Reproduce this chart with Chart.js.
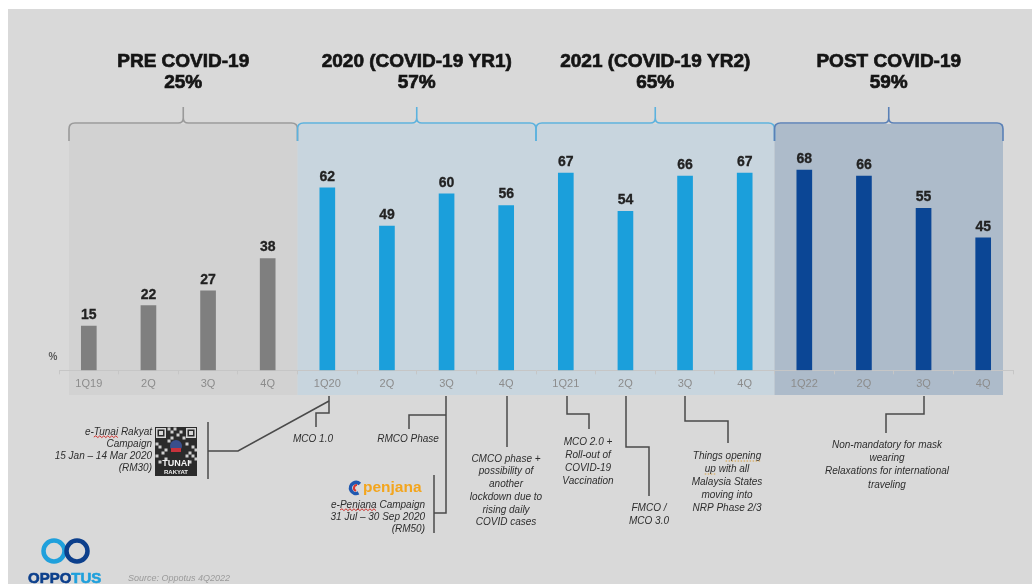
<!DOCTYPE html>
<html>
<head>
<meta charset="utf-8">
<script src="https://cdn.jsdelivr.net/npm/chart.js@4.4.1/dist/chart.umd.min.js"></script>
<style>
  html, body { margin: 0; padding: 0; background: #ffffff; }
  #wrap { width: 1032px; height: 584px; }
</style>
</head>
<body>
<div id="wrap"><canvas id="chart" width="1032" height="584"></canvas></div>
<script>
// Quarterly share (%) and the four periods they are grouped into
const quarters = ['1Q19', '2Q', '3Q', '4Q', '1Q20', '2Q', '3Q', '4Q', '1Q21', '2Q', '3Q', '4Q', '1Q22', '2Q', '3Q', '4Q'];
const shares = [15, 22, 27, 38, 62, 49, 60, 56, 67, 54, 66, 67, 68, 66, 55, 45];
const periodTitles = ['PRE COVID-19', '2020 (COVID-19 YR1)', '2021 (COVID-19 YR2)', 'POST COVID-19'];
const periodAverages = [25, 57, 65, 59];
const periodQuarters = [4, 4, 4, 4];

const FONT = '"Liberation Sans", Arial, Helvetica, sans-serif';
const barColors = ['#7f7f7f', '#1b9fdb', '#1b9fdb', '#0b4695'];
const bandColors = ['#d2d2d2', '#c8d5de', '#c8d5de', '#adbbca'];
const braceColors = ['#9a9a9a', '#5cb2de', '#5cb2de', '#5a80b6'];

// period index for each quarter
const periodOf = [];
periodQuarters.forEach((n, p) => { for (let k = 0; k < n; k++) periodOf.push(p); });

// Event call-outs under the axis
const events = [
  { lines: ['MCO 1.0'], x: 313, y: 439, align: 'center' },
  { lines: ['RMCO Phase'], x: 408, y: 439, align: 'center' },
  { lines: ['CMCO phase +', 'possibility of', 'another', 'lockdown due to', 'rising daily', 'COVID cases'], x: 506, y: 459, step: 12.7, align: 'center' },
  { lines: ['MCO 2.0 +', 'Roll-out of', 'COVID-19', 'Vaccination'], x: 588, y: 442, step: 13, align: 'center' },
  { lines: ['FMCO /', 'MCO 3.0'], x: 649, y: 508, step: 13, align: 'center' },
  { lines: ['Things opening', 'up with all', 'Malaysia States', 'moving into', 'NRP Phase 2/3'], x: 727, y: 456, step: 13, align: 'center' },
  { lines: ['Non-mandatory for mask', 'wearing', 'Relaxations for international', 'traveling'], x: 887, y: 445, step: 13.3, align: 'center' },
  { lines: ['e-Tunai Rakyat', 'Campaign', '15 Jan \u2013 14 Mar 2020', '(RM30)'], x: 152, y: 432, step: 12, align: 'right' },
  { lines: ['e-Penjana Campaign', '31 Jul \u2013 30 Sep 2020', '(RM50)'], x: 425, y: 505, step: 12, align: 'right' }
];

// Connector polylines (pixel points) tying call-outs to the axis
const connectors = [
  [[329, 396], [329, 413], [316, 413], [316, 427]],
  [[208, 422], [208, 479]],
  [[208, 451], [238, 451], [329, 401]],
  [[446, 396], [446, 513], [434, 513]],
  [[446, 415], [409, 415], [409, 429]],
  [[434, 475], [434, 533]],
  [[507, 396], [507, 447]],
  [[567, 396], [567, 414], [589, 414], [589, 429]],
  [[626, 396], [626, 447], [649, 447], [649, 496]],
  [[685, 396], [685, 421], [728, 421], [728, 443]],
  [[924, 396], [924, 414], [886, 414], [886, 433]]
];

function periodEdges(xs) {
  const half = (xs.getPixelForValue(1) - xs.getPixelForValue(0)) / 2;
  const edges = [];
  let start = 0;
  periodQuarters.forEach((n, p) => {
    let x0 = xs.getPixelForValue(start) - half;
    let x1 = xs.getPixelForValue(start + n - 1) + half;
    if (p === 0) x0 += 10;
    if (p === periodQuarters.length - 1) x1 -= 10;
    edges.push([x0, x1]);
    start += n;
  });
  return edges;
}

function brace(ctx, x0, x1, y, color) {
  const xc = (x0 + x1) / 2, r = 6;
  ctx.save();
  ctx.strokeStyle = color;
  ctx.lineWidth = 1.6;
  ctx.beginPath();
  ctx.moveTo(x0, y + 18);
  ctx.lineTo(x0, y + r);
  ctx.quadraticCurveTo(x0, y, x0 + r, y);
  ctx.lineTo(xc - 5, y);
  ctx.quadraticCurveTo(xc, y, xc, y - 5);
  ctx.lineTo(xc, y - 16);
  ctx.moveTo(xc, y - 5);
  ctx.quadraticCurveTo(xc, y, xc + 5, y);
  ctx.lineTo(x1 - r, y);
  ctx.quadraticCurveTo(x1, y, x1, y + r);
  ctx.lineTo(x1, y + 18);
  ctx.stroke();
  ctx.restore();
}

function squiggle(ctx, x0, x1, y, color, dotted) {
  ctx.save();
  ctx.strokeStyle = color;
  ctx.lineWidth = 1;
  ctx.beginPath();
  if (dotted) {
    ctx.setLineDash([1.5, 1.5]);
    ctx.moveTo(x0, y); ctx.lineTo(x1, y);
  } else {
    ctx.moveTo(x0, y);
    let up = true;
    for (let x = x0 + 2; x <= x1; x += 2) { ctx.lineTo(x, up ? y - 1.2 : y + 0.6); up = !up; }
  }
  ctx.stroke();
  ctx.restore();
}

function drawQR(ctx, x, y) {
  ctx.save();
  ctx.fillStyle = '#2b2b2b';
  ctx.fillRect(x, y, 42, 49);
  ctx.fillStyle = '#cfcfcf';
  const m = 3;
  const blocks = [
    [4, 0], [5, 1], [6, 0], [7, 2], [5, 3], [8, 1], [9, 3], [4, 4], [6, 5], [0, 5], [1, 6], [3, 7],
    [2, 8], [0, 9], [10, 5], [12, 6], [11, 8], [13, 7], [12, 9], [10, 9], [3, 10], [1, 11], [11, 11], [13, 10]
  ];
  blocks.forEach(([c, r]) => ctx.fillRect(x + 0.5 + c * m, y + 0.5 + r * m, m, m));
  // finder squares
  [[1, 1], [31, 1]].forEach(([fx, fy]) => {
    ctx.fillStyle = '#d6d6d6'; ctx.fillRect(x + fx, y + fy, 10, 10);
    ctx.fillStyle = '#2b2b2b'; ctx.fillRect(x + fx + 1.5, y + fy + 1.5, 7, 7);
    ctx.fillStyle = '#d6d6d6'; ctx.fillRect(x + fx + 3, y + fy + 3, 4, 4);
  });
  // emblem
  ctx.fillStyle = '#3a4f8c'; ctx.beginPath(); ctx.arc(x + 21, y + 19, 6, 0, Math.PI * 2); ctx.fill();
  ctx.fillStyle = '#c8323c'; ctx.fillRect(x + 16, y + 21, 10, 4);
  ctx.fillStyle = '#f2f2f2';
  ctx.textAlign = 'center';
  ctx.textBaseline = 'alphabetic';
  ctx.font = 'bold 9px ' + FONT;
  ctx.fillText('TUNAI', x + 21, y + 39);
  ctx.font = 'bold 6px ' + FONT;
  ctx.fillText('RAKYAT', x + 21, y + 47);
  ctx.restore();
}

function drawPenjana(ctx, x, y) {
  ctx.save();
  ctx.lineWidth = 3.5;
  ctx.strokeStyle = '#2058b0';
  ctx.beginPath(); ctx.arc(x, y, 5.5, Math.PI * 0.35, Math.PI * 1.75); ctx.stroke();
  ctx.strokeStyle = '#d8362f';
  ctx.lineWidth = 2;
  ctx.beginPath(); ctx.arc(x + 1, y, 3, Math.PI * 0.6, Math.PI * 1.5); ctx.stroke();
  ctx.fillStyle = '#f3a51d';
  ctx.font = 'bold 15.5px ' + FONT;
  ctx.textAlign = 'left';
  ctx.textBaseline = 'middle';
  ctx.fillText('penjana', x + 7, y);
  ctx.restore();
}

function heavyText(ctx, text, x, y) {
  ctx.fillText(text, x, y);
  ctx.strokeText(text, x, y);
}

const decorPlugin = {
  id: 'decor',
  beforeDraw(chart) {
    const ctx = chart.ctx;
    const xs = chart.scales.x;
    ctx.save();
    ctx.fillStyle = '#ffffff';
    ctx.fillRect(0, 0, chart.width, chart.height);
    ctx.fillStyle = '#d9d9d9';
    ctx.fillRect(8, 9, chart.width - 8, chart.height - 9);
    periodEdges(xs).forEach(([x0, x1], p) => {
      ctx.fillStyle = bandColors[p];
      ctx.fillRect(x0, 124, x1 - x0, 271);
    });
    ctx.restore();
  },
  afterDatasetsDraw(chart) {
    const ctx = chart.ctx;
    const xs = chart.scales.x;
    const edges = periodEdges(xs);
    ctx.save();
    // period headings and braces
    edges.forEach(([x0, x1], p) => {
      const xc = (x0 + x1) / 2;
      ctx.fillStyle = '#151515';
      ctx.strokeStyle = '#151515';
      ctx.lineWidth = 0.7;
      ctx.textAlign = 'center';
      ctx.textBaseline = 'middle';
      ctx.font = 'bold 19px ' + FONT;
      heavyText(ctx, periodTitles[p], xc, 62);
      heavyText(ctx, periodAverages[p] + '%', xc, 83);
      brace(ctx, x0, x1, 123, braceColors[p]);
    });
    // value labels
    const meta = chart.getDatasetMeta(0);
    ctx.font = 'bold 14px ' + FONT;
    ctx.fillStyle = '#222222';
    ctx.strokeStyle = '#222222';
    ctx.lineWidth = 0.3;
    ctx.textAlign = 'center';
    ctx.textBaseline = 'alphabetic';
    meta.data.forEach((bar, i) => {
      heavyText(ctx, String(shares[i]), bar.x, bar.y - 7);
    });
    // unit
    ctx.font = 'bold 10px ' + FONT;
    ctx.fillStyle = '#5a5a5a';
    ctx.fillText('%', 53, 360);

    // connectors
    ctx.strokeStyle = '#4a4a4a';
    ctx.lineWidth = 1.5;
    connectors.forEach(pts => {
      ctx.beginPath();
      pts.forEach(([px, py], k) => k ? ctx.lineTo(px, py) : ctx.moveTo(px, py));
      ctx.stroke();
    });

    // call-out texts
    ctx.fillStyle = '#2e2e2e';
    ctx.font = 'italic 10px ' + FONT;
    ctx.textBaseline = 'middle';
    events.forEach(ev => {
      ctx.textAlign = ev.align;
      ev.lines.forEach((ln, k) => ctx.fillText(ln, ev.x, ev.y + k * (ev.step || 12)));
    });

    // spell-check marks
    ctx.textAlign = 'left';
    const wTunaiLine = ctx.measureText('e-Tunai Rakyat').width;
    const tStart = 152 - wTunaiLine + ctx.measureText('e-').width;
    squiggle(ctx, tStart, tStart + ctx.measureText('Tunai').width, 437, '#d0312d');
    const wPen = ctx.measureText('e-Penjana Campaign').width;
    const pStart = 425 - wPen + ctx.measureText('e-').width;
    squiggle(ctx, pStart, pStart + ctx.measureText('Penjana').width, 510, '#d0312d');
    const wThings = ctx.measureText('Things opening').width;
    const oStart = 727 - wThings / 2 + ctx.measureText('Things ').width;
    squiggle(ctx, oStart, oStart + ctx.measureText('opening').width, 461, '#d9a040', true);
    const wUp = ctx.measureText('up with all').width;
    const uStart = 727 - wUp / 2;
    squiggle(ctx, uStart, uStart + ctx.measureText('up').width, 474, '#d9a040', true);

    drawQR(ctx, 155, 427);
    drawPenjana(ctx, 356, 488);

    // brand mark and source
    ctx.lineWidth = 4.5;
    ctx.strokeStyle = '#1fa0dc';
    ctx.beginPath(); ctx.arc(54, 551, 10.5, 0, Math.PI * 2); ctx.stroke();
    ctx.strokeStyle = '#0c3f8c';
    ctx.beginPath(); ctx.arc(77, 551, 10.5, 0, Math.PI * 2); ctx.stroke();
    ctx.font = 'bold 15px ' + FONT;
    ctx.textBaseline = 'alphabetic';
    ctx.textAlign = 'left';
    ctx.lineWidth = 0.6;
    ctx.fillStyle = '#0c3f8c';
    ctx.strokeStyle = '#0c3f8c';
    heavyText(ctx, 'OPPO', 28, 583);
    ctx.fillStyle = '#1fa0dc';
    ctx.strokeStyle = '#1fa0dc';
    heavyText(ctx, 'TUS', 28 + ctx.measureText('OPPO').width, 583);
    ctx.font = 'italic 9px ' + FONT;
    ctx.fillStyle = '#9a9a9a';
    ctx.fillText('Source: Oppotus 4Q2022', 128, 581);
    ctx.restore();
  }
};

Chart.defaults.font.family = FONT;

new Chart(document.getElementById('chart'), {
  type: 'bar',
  data: {
    labels: quarters,
    datasets: [{
      data: shares,
      backgroundColor: shares.map((v, i) => barColors[periodOf[i]]),
      barThickness: 15,
      borderWidth: 0
    }]
  },
  options: {
    responsive: false,
    animation: false,
    devicePixelRatio: 1,
    layout: { padding: { left: 59, right: 19, top: 76, bottom: 190.5 } },
    plugins: { legend: { display: false }, tooltip: { enabled: false } },
    scales: {
      x: {
        grid: { display: true, drawOnChartArea: false, drawTicks: true, tickLength: 4, color: '#c6c6c6', offset: true },
        border: { display: true, color: '#c6c6c6', width: 1 },
        ticks: { color: '#8c8c8c', font: { size: 11 }, padding: 3, maxRotation: 0, autoSkip: false }
      },
      y: { display: false, min: 0, max: 100 }
    }
  },
  plugins: [decorPlugin]
});
</script>
</body>
</html>
